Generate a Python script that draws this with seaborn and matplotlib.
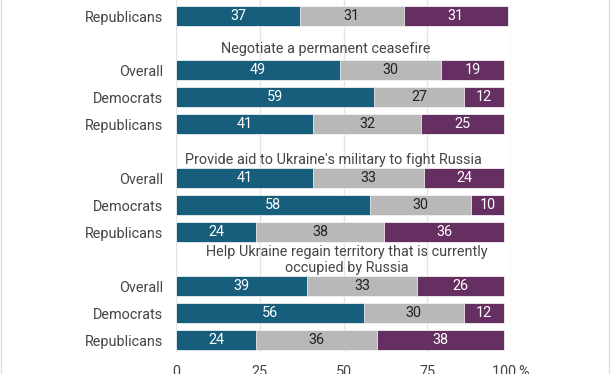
import matplotlib
matplotlib.use("Agg")

import pandas as pd
import matplotlib.pyplot as plt
import seaborn as sns

# ── Data ─────────────────────────────────────────────────────────────────────
# first question is cut off at the top: only its Republicans row is visible
questions = [
    "",
    "Negotiate a permanent ceasefire",
    "Provide aid to Ukraine's military to fight Russia",
    "Help Ukraine regain territory that is currently\noccupied by Russia",
]
groups = ["Overall", "Democrats", "Republicans"]

row_question = [0, 1, 1, 1, 2, 2, 2, 3, 3, 3]
row_group = ["Republicans",
             "Overall", "Democrats", "Republicans",
             "Overall", "Democrats", "Republicans",
             "Overall", "Democrats", "Republicans"]
support = [37, 49, 59, 41, 41, 58, 24, 39, 56, 24]
neutral = [31, 30, 27, 32, 33, 30, 38, 33, 30, 36]
oppose  = [31, 19, 12, 25, 24, 10, 36, 26, 12, 38]

x_ticks = [0, 25, 50, 75, 100]
x_tick_labels = ["0", "25", "50", "75", "100\u2009%"]

# ── Style ────────────────────────────────────────────────────────────────────
BLUE, GRAY, PURPLE = "#175e7c", "#b8b8b8", "#652f62"
TEXT = "#444444"
FS = 10.4

sns.set_theme(style="white")
plt.rcParams["font.family"] = ["Roboto", "DejaVu Sans"]
plt.rcParams["font.size"] = FS

# one row per slot, a blank slot between questions
df = pd.DataFrame({
    "question": row_question,
    "group": row_group,
    "support": support,
    "neutral": neutral,
    "oppose": oppose,
})
df["pos"] = df["question"] * 4 + df["group"].map(groups.index)
df["cum2"] = df["support"] + df["neutral"]
df["cum3"] = df["cum2"] + df["oppose"]

fig = plt.figure(figsize=(6.12, 3.74), dpi=100)
ax = fig.add_axes([176 / 612, 1 - 352 / 374, 335 / 612, 352 / 374])

# stacked bars: draw cumulative totals, widest first
for col, color in [("cum3", PURPLE), ("cum2", GRAY), ("support", BLUE)]:
    sns.barplot(data=df, x=col, y="pos", orient="y", native_scale=True,
                color=color, width=0.75, errorbar=None, saturation=1,
                edgecolor="white", linewidth=0.5, ax=ax)

# value labels at segment centres
for _, r in df.iterrows():
    segs = [(0, r["support"], "white"),
            (r["support"], r["neutral"], "#222222"),
            (r["cum2"], r["oppose"], "white")]
    for start, val, tc in segs:
        ax.text(start + val / 2, r["pos"], f"{val}", ha="center", va="center",
                color=tc, fontsize=FS)

# question titles above each block
title_x = [None, 44.6, 47.0, 51.0]
title_gap = [None, 0.53, 0.4, 0.4]
for q, title in enumerate(questions):
    if not title:
        continue
    ax.text(title_x[q], q * 4 - title_gap[q], title, ha="center", va="bottom",
            color=TEXT, fontsize=FS, linespacing=1.2)

ax.set_xlim(0, 100)
ax.set_ylim(14.444, 1.407)
ax.set_xticks(x_ticks)
ax.set_xticklabels(x_tick_labels)
ax.set_yticks(df["pos"])
ax.set_yticklabels(df["group"])
ax.set_xlabel("")
ax.set_ylabel("")
ax.tick_params(axis="both", length=0, pad=9.4, colors=TEXT, labelsize=FS)
ax.grid(axis="x", color="#e4e4e4", linewidth=1)
ax.grid(axis="y", visible=False)
ax.set_axisbelow(True)
for s in ax.spines.values():
    s.set_visible(False)

# light frame lines at the left and right edges of the picture
for xp in (1.0, 608.5):
    fig.add_artist(plt.Line2D([xp / 612] * 2, [0, 1], transform=fig.transFigure,
                              color="#dddddd", linewidth=1))

fig.savefig("out.png", dpi=100)
plt.close(fig)
